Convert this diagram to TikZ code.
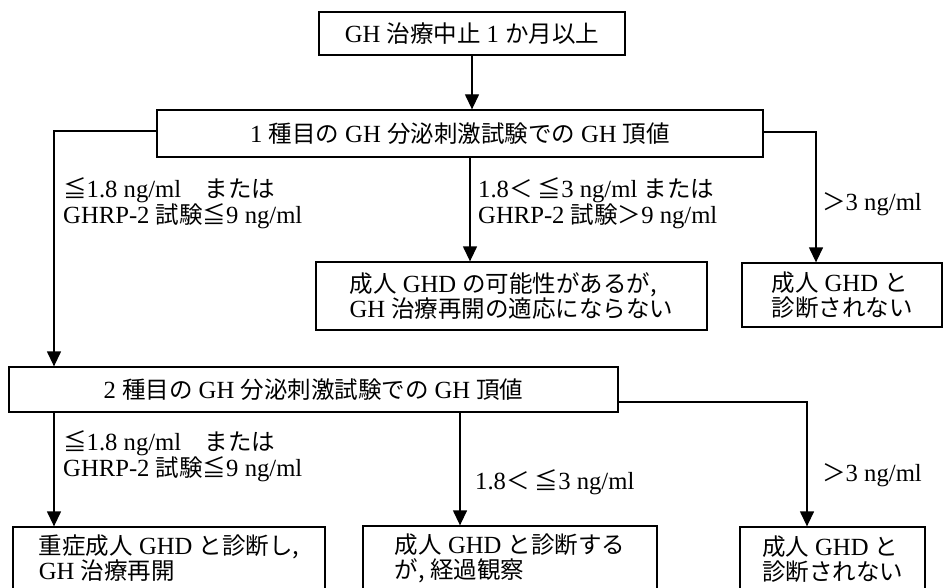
\documentclass[tikz,border=0pt]{standalone}
\usepackage{fontspec}
\setmainfont{Liberation Serif}[Scale=1.05]
\newfontfamily\jpf{Noto Sans CJK JP}
\usetikzlibrary{arrows.meta}
\newcommand\J[1]{{\jpf #1}}
\begin{document}
\begin{tikzpicture}[x=1pt,y=-1pt,
  font=\fontsize{23.5}{25}\selectfont,
  box/.style={draw, line width=1.3pt, inner sep=0pt, align=left},
  conn/.style={line width=1.3pt},
  arr/.style={conn, -{Triangle[width=14pt,length=15pt]}},
  lab/.style={anchor=west, align=left, inner sep=0pt}]
\fill[white] (0,0) rectangle (944,588);
\clip (0,0) rectangle (944,588);
% boxes
\node[box, minimum width=306pt, minimum height=43pt] (top) at (472,33.5) {GH \J{治療中止} 1 \J{か月以上}};
\node[box, minimum width=606pt, minimum height=47pt] (b1) at (460,133.5) {1 \J{種目の} GH \J{分泌刺激試験での} GH \J{頂値}};
\node[box, minimum width=391pt, minimum height=68pt] (mid) at (511.5,296) {\J{成人} GHD \J{の可能性があるが,}\\GH \J{治療再開の適応にならない}};
\node[box, minimum width=200pt, minimum height=64pt] (rgt) at (842,295) {\J{成人} GHD \J{と}\\\J{診断されない}};
\node[box, minimum width=609pt, minimum height=45pt] (b2) at (313.5,389.5) {2 \J{種目の} GH \J{分泌刺激試験での} GH \J{頂値}};
\node[box, minimum width=312pt, minimum height=63pt] (bl) at (169,558.5) {\J{重症成人} GHD \J{と診断し,}\\GH \J{治療再開}};
\node[box, minimum width=294pt, minimum height=64pt] (bm) at (510,558) {\J{成人} GHD \J{と診断する}\\\J{が,\ 経過観察}};
\node[box, minimum width=185pt, minimum height=64pt] (br) at (832.5,559) {\J{成人} GHD \J{と}\\\J{診断されない}};
% guide coordinates
\coordinate (xl1) at (54,0);
\coordinate (xm1) at (470,0);
\coordinate (xr1) at (816,0);
\coordinate (xl2) at (54,0);
\coordinate (xm2) at (460,0);
\coordinate (xr2) at (807,0);
\coordinate (yl1) at (0,131);
\coordinate (yr1) at (0,132);
\coordinate (yr2) at (0,402);
% connectors
\draw[arr] (top.south) -- (top.south |- b1.north);
\draw[arr] (b1.west |- yl1) -| (xl1 |- b2.north);
\draw[arr] (b1.south -| xm1) -- (mid.north -| xm1);
\draw[arr] (b1.east |- yr1) -| (xr1 |- rgt.north);
\draw[arr] (b2.south -| xl2) -- (bl.north -| xl2);
\draw[arr] (b2.south -| xm2) -- (bm.north -| xm2);
\draw[arr] (b2.east |- yr2) -| (xr2 |- br.north);
% labels
\node[lab] (l1a) at (63,203) {\J{≦}1.8 ng/ml\J{　または}\\GHRP-2 \J{試験≦}9 ng/ml};
\node[lab] (l1b) at (478,203) {1.8\J{＜ ≦}3 ng/ml \J{または}\\GHRP-2 \J{試験＞}9 ng/ml};
\node[lab] (l1c) at (822,204) {\J{＞}3 ng/ml};
\node[lab] (l2a) at (63,456) {\J{≦}1.8 ng/ml\J{　または}\\GHRP-2 \J{試験≦}9 ng/ml};
\node[lab] (l2b) at (475,482) {1.8\J{＜ ≦}3 ng/ml};
\node[lab] (l2c) at (822,475) {\J{＞}3 ng/ml};
\end{tikzpicture}
\end{document}
